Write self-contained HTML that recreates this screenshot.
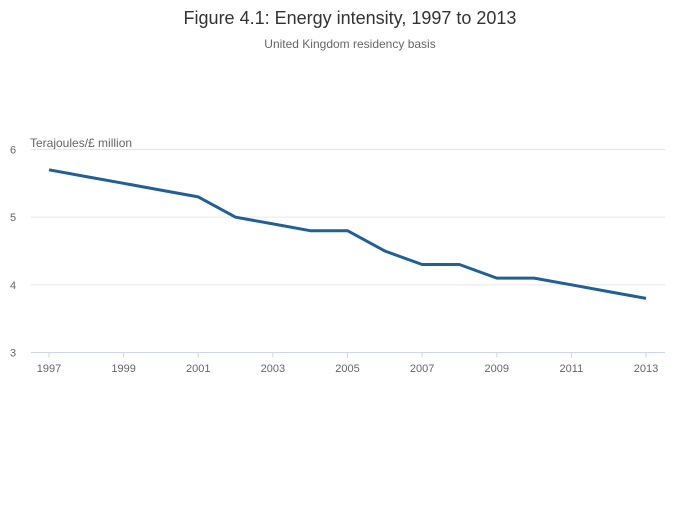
<!DOCTYPE html>
<html><head><meta charset="utf-8">
<style>
body{margin:0;background:#fff;width:700px;height:502px;overflow:hidden;font-family:"Liberation Sans",sans-serif;}
</style></head>
<body>
<svg id="chart" width="700" height="502" viewBox="0 0 700 502" xmlns="http://www.w3.org/2000/svg">
<text x="350" y="24" text-anchor="middle" font-size="18" fill="#333" font-family="Liberation Sans, sans-serif">Figure 4.1: Energy intensity, 1997 to 2013</text>
<text x="350" y="48" text-anchor="middle" font-size="12" fill="#666" font-family="Liberation Sans, sans-serif">United Kingdom residency basis</text>
<text x="30" y="147" font-size="12" fill="#666" font-family="Liberation Sans, sans-serif">Terajoules/£ million</text>
<g id="grid"></g><g id="xaxis"></g><g id="series"></g>
</svg>
<script>
const years = [1997,1998,1999,2000,2001,2002,2003,2004,2005,2006,2007,2008,2009,2010,2011,2012,2013];
const intensity = [5.7,5.6,5.5,5.4,5.3,5.0,4.9,4.8,4.8,4.5,4.3,4.3,4.1,4.1,4.0,3.9,3.8];
const yTicks = [3,4,5,6];
const xTicks = [1997,1999,2001,2003,2005,2007,2009,2011,2013];

const NS="http://www.w3.org/2000/svg";
const L=31,R=665,T=149.5,B=352.5;
const xMin=1997,xMax=2013,yMin=3,yMax=6;
const x=v=>49+(v-xMin)/(xMax-xMin)*(646-49);
const y=v=>B-(v-yMin)/(yMax-yMin)*(B-T);
function mk(tag,attrs,parent){const e=document.createElementNS(NS,tag);for(const k in attrs)e.setAttribute(k,attrs[k]);parent.appendChild(e);return e;}
const grid=document.getElementById('grid'),xa=document.getElementById('xaxis'),se=document.getElementById('series');
yTicks.forEach(t=>{
  if(t!==yMin){const g=mk('line',{x1:L,x2:R,y1:y(t),y2:y(t),stroke:'#e6e6e6','stroke-width':1},grid);
  
  }
  const tx=mk('text',{x:13,y:y(t)+4,'font-size':11,fill:'#666','text-anchor':'middle'},grid);
  tx.textContent=t;
  
  
});
const ax=mk('line',{x1:L,x2:R,y1:B,y2:B,stroke:'#ccd6eb','stroke-width':1},xa);


xTicks.forEach(t=>{
  const tk=mk('line',{x1:x(t),x2:x(t),y1:B,y2:B+5,stroke:'#ccd6eb'},xa);
  
  
  const tx=mk('text',{x:x(t),y:372,'font-size':11,fill:'#666','text-anchor':'middle'},xa);
  tx.textContent=t;
  
  
});
const pts=years.map((yr,i)=>x(yr).toFixed(1)+','+y(intensity[i]).toFixed(1)).join(' ');
const pl=mk('polyline',{points:pts,fill:'none',stroke:'#206095','stroke-width':3,'stroke-linejoin':'round'},se);


</script>
</body></html>
